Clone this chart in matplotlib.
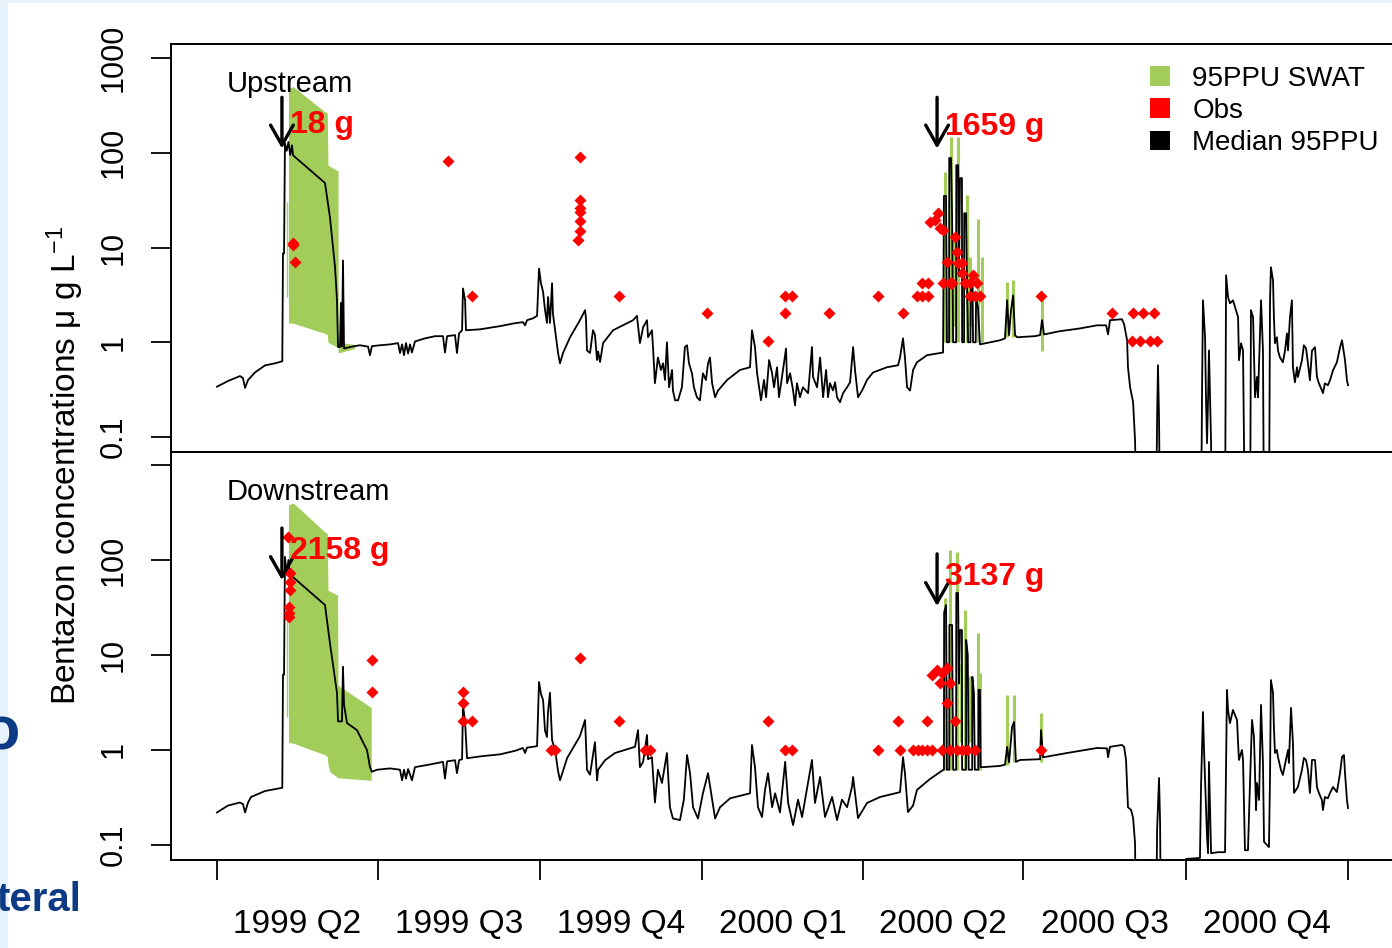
import matplotlib
matplotlib.use("Agg")
import matplotlib.pyplot as plt
from matplotlib.patches import Patch, Rectangle

plt.rcParams['font.family'] = ['Liberation Sans', 'DejaVu Sans']
plt.rcParams['mathtext.fontset'] = 'custom'
plt.rcParams['mathtext.rm'] = 'Liberation Sans'
plt.rcParams['mathtext.it'] = 'Liberation Sans:italic'

GREEN = '#A2CD5A'
RED = '#FF0000'

# ---- x axis: days since 1999-04-01 ----
quarter_edges = [0, 91, 183, 275, 366, 457, 549, 641]
quarter_labels = ['1999 Q2', '1999 Q3', '1999 Q4', '2000 Q1', '2000 Q2', '2000 Q3', '2000 Q4']

y_ticks = [0.1, 1, 10, 100, 1000]
y_labels_top = ['0.1', '1', '10', '100', '1000']
y_labels_bot = ['0.1', '1', '10', '100', '']

# ---- Upstream: median of 95PPU (day, ug/L) ----
up_median = [
    (0, 0.34), (6.2, 0.39), (13.0, 0.44), (14.7, 0.42), (15.9, 0.33), (17.6, 0.40), (21.5, 0.48),
    (27.2, 0.57), (32.9, 0.60), (37.0, 0.63), (37.4, 8.7), (38.0, 8.7), (38.5, 126), (39.5, 105),
    (40.5, 130), (41.5, 95), (42.5, 120), (43.1, 94), (61.2, 48), (64.0, 21), (66.9, 6.2), (68.0, 2.8),
    (68.6, 0.89), (69.7, 0.89), (70.2, 2.6), (70.8, 0.90), (71.4, 7.3), (72.0, 0.86), (76.5, 0.90),
    (81.0, 0.93), (85.6, 0.90), (86.7, 0.73), (87.8, 0.91), (92.4, 0.93), (98.1, 0.95), (102.6, 0.98),
    (103.7, 0.77), (104.9, 0.95), (106.0, 0.73), (107.1, 0.98), (108.3, 0.76), (109.4, 0.95),
    (110.5, 0.78), (112.2, 1.02), (117.9, 1.10), (123.6, 1.16), (128.1, 1.16), (129.2, 0.78),
    (130.4, 1.16), (134.9, 1.19), (136.0, 0.77), (137.2, 1.24), (138.9, 1.34), (139.4, 3.7),
    (140.6, 2.8), (141.1, 1.34), (149.1, 1.37), (160.4, 1.48), (168.9, 1.59), (173.4, 1.63),
    (174.6, 1.51), (175.7, 1.71), (179.1, 1.79), (181.4, 1.90), (182.5, 6.0), (183.6, 4.2),
    (184.8, 3.4), (185.9, 2.2), (187.0, 1.6), (187.6, 3.0), (188.7, 1.6), (189.9, 4.2), (190.4, 2.0),
    (191.6, 1.34), (193.3, 0.77), (194.4, 0.60), (196.1, 0.77), (200.1, 1.13), (205.7, 1.71),
    (208.6, 2.18), (209.1, 1.8), (209.7, 0.82), (211.4, 0.77), (213.1, 1.34), (214.2, 1.2),
    (215.4, 0.65), (216.0, 0.80), (217.1, 0.62), (218.8, 0.98), (224.5, 1.34), (235.8, 1.71),
    (238.0, 1.9), (239.7, 0.98), (241.5, 1.44), (243.7, 1.71), (244.3, 1.13), (246.5, 1.34),
    (247.1, 0.89), (248.2, 0.37), (249.9, 0.69), (251.6, 0.51), (252.8, 0.60), (253.9, 0.40),
    (255.0, 1.0), (256.2, 0.335), (257.9, 0.51), (258.4, 0.31), (259.6, 0.244), (261.3, 0.244),
    (263.5, 0.335), (265.2, 0.89), (266.4, 0.93), (267.5, 0.60), (269.2, 0.47), (270.3, 0.335),
    (272.0, 0.263), (273.7, 0.244), (275.4, 0.47), (277.1, 0.40), (278.3, 0.60), (279.4, 0.69),
    (280.6, 0.37), (282.3, 0.263), (284.0, 0.31), (289.1, 0.40), (296.4, 0.51), (302.1, 0.545),
    (303.2, 1.34), (304.9, 0.89), (306.1, 0.47), (308.3, 0.244), (310.0, 0.40), (311.2, 0.263),
    (312.9, 0.65), (314.6, 0.47), (315.7, 0.335), (317.4, 0.545), (318.5, 0.263), (320.2, 0.43),
    (322.5, 0.86), (323.1, 0.37), (324.8, 0.47), (326.5, 0.31), (327.6, 0.216), (328.7, 0.37),
    (330.4, 0.263), (332.1, 0.335), (335.0, 0.29), (337.2, 0.89), (337.8, 0.43), (340.1, 0.335),
    (341.8, 0.69), (343.5, 0.263), (345.2, 0.51), (346.3, 0.263), (347.4, 0.37), (349.1, 0.31),
    (350.3, 0.378), (351.4, 0.263), (353.1, 0.233), (354.8, 0.29), (357.1, 0.335), (358.8, 0.378),
    (360.5, 0.89), (361.6, 0.51), (363.3, 0.263), (365.6, 0.31), (368.4, 0.40), (371.8, 0.48),
    (379.7, 0.545), (386.0, 0.572), (387.1, 0.69), (388.8, 1.10), (389.9, 0.69), (391.1, 0.335),
    (392.8, 0.31), (394.5, 0.51), (396.7, 0.615), (402.4, 0.73), (411.5, 0.78),
    (412.0, 35), (413.2, 35), (413.7, 1.0), (414.9, 1.0), (415.0, 88), (416.0, 88), (416.6, 21),
    (417.2, 1.0), (418.9, 1.0), (419.0, 74), (420.0, 74), (420.5, 5.0), (421.1, 54), (422.2, 54),
    (422.3, 1.0), (423.4, 1.0), (423.5, 23), (424.5, 23), (425.0, 5.0), (425.7, 1.0), (427.0, 1.0),
    (427.3, 4.5), (428.2, 4.5), (428.5, 1.0), (430.0, 1.0), (430.2, 3.0), (431.3, 2.3), (432.4, 0.95),
    (438.1, 1.0), (443.8, 1.05), (446.6, 1.10), (447.8, 2.77), (448.9, 1.19), (450.0, 2.18),
    (451.2, 3.13), (452.3, 1.19), (453.4, 1.13), (463.6, 1.16), (466.5, 1.19), (467.6, 1.71),
    (468.7, 1.21), (477.8, 1.31), (489.1, 1.40), (498.8, 1.51), (503.9, 1.51), (505.0, 1.21),
    (506.1, 1.71), (512.9, 1.75), (514.1, 1.55), (515.8, 1.05), (516.3, 0.545), (517.5, 0.335),
    (519.2, 0.233), (520.3, 0.093), (521.4, 0.01), (532.2, 0.01), (532.8, 0.158), (533.3, 0.572),
    (533.9, 0.158), (534.5, 0.01), (557.7, 0.01), (558.3, 0.34), (558.8, 2.77), (560.0, 1.10),
    (560.5, 0.263), (561.1, 0.086), (561.7, 0.263), (562.2, 0.82), (563.4, 0.086), (563.9, 0.01),
    (571.3, 0.01), (571.9, 5.1), (573.0, 2.99), (574.1, 2.58), (575.8, 2.77), (577.5, 2.18),
    (578.7, 1.84), (579.2, 0.646), (580.4, 0.977), (581.5, 0.82), (582.6, 0.01), (585.5, 0.01),
    (586.0, 2.18), (587.2, 1.84), (588.3, 0.263), (589.4, 0.43), (590.0, 0.263), (591.7, 2.77),
    (592.8, 0.82), (593.4, 0.01), (596.2, 0.01), (596.8, 2.77), (597.3, 6.2), (598.5, 4.5),
    (599.0, 1.84), (599.6, 0.977), (600.7, 1.13), (601.3, 0.82), (602.4, 0.694), (604.1, 0.615),
    (605.3, 0.82), (606.4, 1.24), (607.0, 0.82), (608.1, 1.84), (609.2, 2.77), (609.8, 0.545),
    (610.9, 0.378), (612.1, 0.545), (612.6, 0.43), (614.9, 0.646), (616.0, 0.93), (617.2, 0.864),
    (618.3, 0.60), (619.4, 0.397), (620.6, 0.82), (622.3, 0.886), (623.4, 0.43), (624.5, 0.369),
    (626.2, 0.311), (626.8, 0.29), (627.9, 0.369), (629.6, 0.352), (630.8, 0.397), (632.5, 0.506),
    (634.7, 0.615), (636.5, 0.886), (637.6, 1.05), (639.3, 0.646), (640.4, 0.397), (641.0, 0.352),
]

# ---- Downstream: median of 95PPU ----
down_median = [
    (0, 0.22), (6.2, 0.26), (13.0, 0.28), (14.7, 0.27), (15.9, 0.22), (17.6, 0.28), (19.3, 0.32),
    (27.2, 0.37), (37.0, 0.40), (37.4, 6.2), (38.0, 6.2), (38.5, 108), (39.5, 70), (40.5, 100),
    (41.5, 62), (42.5, 75), (43.1, 66), (61.2, 33.6), (64.0, 13.4), (68.0, 4.0), (68.6, 2.0),
    (70.8, 2.0), (71.4, 7.5), (72.0, 2.98), (73.7, 1.92), (79.3, 1.62), (85.0, 1.0), (86.7, 0.66),
    (87.8, 0.59), (90.7, 0.62), (98.0, 0.64), (103.7, 0.62), (104.9, 0.48), (106.0, 0.62),
    (107.1, 0.50), (108.3, 0.63), (110.5, 0.48), (112.2, 0.66), (120.0, 0.70), (128.1, 0.75),
    (129.2, 0.50), (130.4, 0.76), (134.9, 0.78), (136.0, 0.57), (137.2, 0.78), (138.9, 0.80),
    (139.4, 2.98), (140.6, 2.0), (141.7, 0.82), (150.0, 0.86), (160.4, 0.90), (168.9, 0.98),
    (173.4, 1.05), (174.6, 0.93), (175.7, 1.06), (179.1, 1.08), (181.4, 1.10), (182.5, 5.2),
    (183.6, 3.9), (184.8, 3.36), (185.9, 1.6), (187.0, 1.37), (187.6, 2.5), (188.7, 4.0),
    (189.9, 1.27), (191.6, 1.0), (193.3, 0.60), (194.4, 0.48), (196.1, 0.60), (198.4, 0.82),
    (205.7, 1.40), (208.6, 2.07), (209.7, 0.62), (211.4, 0.55), (214.2, 1.21), (215.4, 0.48),
    (216.0, 0.62), (219.9, 0.78), (225.6, 0.93), (236.9, 1.08), (238.6, 1.62), (239.7, 0.66),
    (241.5, 0.75), (243.7, 1.44), (244.3, 0.80), (246.5, 0.84), (248.2, 0.28), (249.9, 0.62),
    (252.2, 0.45), (255.0, 0.93), (256.7, 0.25), (258.4, 0.19), (262.4, 0.183), (264.6, 0.30),
    (266.4, 0.886), (268.1, 0.57), (269.8, 0.25), (272.6, 0.19), (275.4, 0.35), (278.3, 0.57),
    (280.6, 0.30), (282.3, 0.19), (285.1, 0.25), (290.8, 0.31), (302.1, 0.35), (303.2, 1.13),
    (304.9, 0.66), (306.6, 0.25), (308.9, 0.197), (310.6, 0.38), (312.3, 0.57), (314.6, 0.25),
    (316.3, 0.35), (319.1, 0.22), (322.0, 0.75), (323.7, 0.277), (326.5, 0.162), (329.3, 0.30),
    (331.6, 0.197), (337.2, 0.785), (338.9, 0.277), (341.8, 0.52), (344.6, 0.197), (348.6, 0.32),
    (351.4, 0.183), (354.2, 0.30), (357.1, 0.25), (359.9, 0.41), (360.5, 0.52), (363.3, 0.192),
    (368.4, 0.277), (375.8, 0.32), (387.1, 0.36), (388.8, 0.84), (389.9, 0.57), (391.6, 0.222),
    (394.5, 0.26), (396.7, 0.38), (404.1, 0.495), (411.5, 0.616),
    (412.0, 0.62), (412.1, 28), (413.2, 33.6), (413.7, 0.62), (415.0, 0.62), (415.1, 20.7),
    (416.6, 20.7), (417.2, 0.62), (418.9, 0.62), (419.0, 45), (420.0, 45), (420.5, 5.0),
    (421.1, 18.3), (422.2, 18.3), (422.3, 0.62), (424.5, 0.62), (424.6, 14.4), (425.5, 10),
    (426.0, 0.62), (428.0, 0.62), (428.1, 5.9), (429.0, 4.0), (429.5, 0.62), (431.5, 0.62),
    (431.6, 4.3), (432.4, 4.3), (432.8, 0.66),
    (434.1, 0.66), (443.8, 0.68), (446.6, 0.70), (447.8, 1.08), (448.9, 0.74), (450.6, 1.75),
    (451.7, 1.97), (452.8, 0.75), (455.1, 0.785), (465.3, 0.80), (466.5, 0.80), (467.0, 1.62),
    (468.2, 0.84), (469.3, 0.845), (481.8, 0.93), (498.8, 1.05), (504.4, 1.04), (505.0, 0.84),
    (506.1, 1.08), (512.9, 1.13), (514.1, 1.08), (515.2, 0.785), (515.8, 0.41), (516.3, 0.25),
    (518.1, 0.233), (519.2, 0.192), (520.3, 0.105), (520.9, 0.01), (532.2, 0.01), (532.8, 0.144),
    (533.9, 0.507), (534.5, 0.17), (535.0, 0.01), (548.6, 0.01), (549.2, 0.0713), (557.1, 0.073),
    (557.7, 0.41), (558.8, 2.51), (559.4, 1.0), (560.5, 0.25), (561.1, 0.122), (561.7, 0.082),
    (562.2, 0.748), (563.4, 0.082), (567.4, 0.084), (571.3, 0.084), (572.4, 4.28), (573.0, 2.64),
    (574.1, 1.92), (575.8, 2.64), (578.1, 2.07), (578.7, 1.18), (579.2, 0.785), (580.9, 1.0),
    (581.5, 0.785), (582.6, 0.088), (584.3, 0.088), (585.5, 0.483), (586.6, 2.07), (587.7, 1.37),
    (588.9, 0.233), (589.4, 0.45), (590.6, 0.298), (591.7, 2.98), (592.8, 0.73), (593.4, 0.108),
    (596.2, 0.095), (596.8, 0.52), (597.3, 5.45), (598.5, 4.0), (599.0, 1.75), (599.6, 0.93),
    (600.7, 1.0), (601.3, 0.844), (603.0, 0.616), (604.1, 0.546), (605.8, 0.785), (607.0, 1.0),
    (607.5, 0.73), (608.7, 2.77), (609.8, 1.18), (610.4, 0.353), (611.5, 0.379), (612.6, 0.408),
    (614.9, 0.616), (616.0, 0.824), (617.2, 0.785), (618.3, 0.616), (619.4, 0.353), (620.6, 0.785),
    (622.3, 0.785), (623.4, 0.408), (624.5, 0.353), (626.2, 0.298), (626.8, 0.233), (627.9, 0.32),
    (629.6, 0.31), (630.8, 0.353), (632.5, 0.408), (634.7, 0.361), (636.5, 0.573), (637.6, 0.844),
    (638.7, 0.886), (639.3, 0.573), (640.4, 0.298), (641.0, 0.245),
]

# ---- 95PPU band, first event ----
up_band_days = [40.5, 43.1, 61.2, 62.5, 62.9, 68.0, 68.6, 68.7, 78.0]
up_band_hi = [480, 500, 270, 265, 74, 65, 65, 1.0, 0.95]
up_band_lo = [1.6, 1.59, 1.24, 1.2, 1.0, 0.89, 0.88, 0.77, 0.86]

down_band_days = [40.5, 43.1, 61.2, 62.5, 62.9, 64.0, 68.0, 68.3, 68.6, 87.4]
down_band_hi = [380, 400, 197, 190, 48, 47, 43, 43, 4.8, 2.8]
down_band_lo = [1.2, 1.18, 0.89, 0.85, 0.7, 0.59, 0.52, 0.51, 0.51, 0.48]

# ---- 95PPU band, later short events (day, low, high) ----
up_spikes_day = [39.7, 412.6, 416.0, 417.8, 420.0, 425.1, 426.5, 431.3, 433.6, 447.8, 451.2, 467.6]
up_spikes_lo = [3.0, 1.0, 1.0, 1.5, 1.0, 1.0, 1.5, 1.0, 1.0, 1.13, 1.13, 0.8]
up_spikes_hi = [30, 62, 146, 12, 146, 36, 8, 20, 7.9, 4.3, 4.5, 3.1]

down_spikes_day = [39.7, 412.6, 415.4, 419.4, 421.5, 423.9, 427.0, 431.3, 432.4, 447.8, 451.7, 467.0]
down_spikes_lo = [2.2, 0.62, 0.62, 0.62, 1.2, 0.62, 1.2, 0.62, 0.62, 0.70, 0.75, 0.74]
down_spikes_hi = [25, 40, 127, 121, 8, 30, 6, 17, 6.5, 3.8, 3.8, 2.45]

# ---- observations ----
up_obs = [
    (43.1, 10.6), (43.1, 11.2), (44.2, 7.0), (130.9, 81), (144.5, 3.06),
    (205.7, 90), (205.7, 32), (205.7, 26), (205.7, 23.5), (205.7, 19), (205.7, 14.8), (204.6, 11.9),
    (227.8, 3.06), (277.7, 2.02), (312.3, 1.02), (321.9, 2.02), (321.9, 3.06), (325.9, 3.06),
    (346.9, 2.02), (374.6, 3.06), (388.8, 2.02), (396.7, 3.06), (399.6, 3.06), (403.0, 3.06),
    (399.6, 4.2), (403.0, 4.2), (408.6, 23), (407.0, 19.3), (404.1, 18.5), (409.8, 16),
    (411.5, 15.2), (411.5, 4.2), (415.4, 4.2), (416.6, 4.2), (413.7, 7.0), (418.3, 12.8),
    (419.4, 8.9), (420.0, 6.8), (422.2, 6.8), (422.2, 5.4), (423.9, 4.2), (426.8, 4.2),
    (428.5, 5.1), (426.8, 3.1), (429.6, 3.1), (432.4, 3.1), (430.7, 4.2), (467.0, 3.06),
    (507.3, 2.02), (519.2, 2.02), (524.8, 2.02), (531.1, 2.02),
    (518.6, 1.02), (523.1, 1.02), (528.8, 1.02), (532.8, 1.02),
]

down_obs = [
    (40.2, 175), (41.4, 73), (41.4, 58), (41.4, 48), (40.8, 32), (40.8, 28), (40.8, 25),
    (87.8, 8.9), (87.8, 4.1), (139.4, 4.1), (139.4, 3.1), (139.4, 2.02), (144.5, 2.02),
    (205.7, 9.3), (189.3, 1.0), (191.6, 1.0), (227.8, 2.02), (242.6, 1.0), (245.4, 1.0),
    (312.3, 2.02), (321.9, 1.0), (325.9, 1.0), (374.6, 1.0), (386.0, 2.02), (387.1, 1.0),
    (394.5, 1.0), (397.3, 1.0), (399.6, 1.0), (402.4, 1.0), (405.2, 1.0), (402.4, 2.02),
    (405.2, 6.2), (408.1, 6.95), (410.9, 6.4), (413.7, 7.3), (409.8, 5.1), (415.4, 5.1),
    (413.7, 3.1), (418.3, 2.02), (410.9, 1.0), (415.4, 1.0), (419.4, 1.0), (422.2, 1.0),
    (425.1, 1.0), (429.6, 1.0), (467.0, 1.0),
]

# ---- annotations: pesticide loads ----
load_days = [36.8, 408.1]
up_loads = ['18 g', '1659 g']
down_loads = ['2158 g', '3137 g']

# ================= figure =================
W, H = 1392, 948
fig = plt.figure(figsize=(W / 100, H / 100), dpi=100)
fig.patch.set_facecolor('white')

# slide background fragments
fig.patches.append(Rectangle((0, 0), 8 / W, 1, transform=fig.transFigure,
                             facecolor='#E6F3FD', edgecolor='none', zorder=0))
fig.patches.append(Rectangle((0, 1 - 3 / H), 1, 3 / H, transform=fig.transFigure,
                             facecolor='#E6F3FD', edgecolor='none', zorder=0))
fig.text(20 / W, 1 - 750 / H, 'o', color='#0D3A84', fontsize=44, fontweight='bold',
         ha='right', va='baseline')
fig.text(81 / W, 1 - 911 / H, 'teral', color='#0D3A84', fontsize=29, fontweight='bold',
         ha='right', va='baseline')

left = 171 / W
width = (1393 - 171) / W
ax1 = fig.add_axes([left, 1 - 452 / H, width, (452 - 44) / H])
ax2 = fig.add_axes([left, 1 - 860 / H, width, (860 - 452) / H])

xlim = (-26.07, 666.5)
panels = [
    (ax1, up_median, up_band_days, up_band_lo, up_band_hi, up_spikes_day, up_spikes_lo,
     up_spikes_hi, up_obs, (0.0695, 1406), y_labels_top, 'Upstream', up_loads,
     [(111, 385), (111, 385)], [195, 186], 0.902),
    (ax2, down_median, down_band_days, down_band_lo, down_band_hi, down_spikes_day,
     down_spikes_lo, down_spikes_hi, down_obs, (0.0695, 1371), y_labels_bot, 'Downstream',
     down_loads, [(61.5, 217), (32.8, 116)], [124, 66], 0.902),
]

for (ax, med, bd, blo, bhi, sd, slo, shi, obs, ylim, ylabs, title, loads,
     arrows, load_y, ty) in panels:
    ax.set_yscale('log')
    ax.set_xlim(*xlim)
    ax.set_ylim(*ylim)
    ax.fill_between(bd, blo, bhi, color=GREEN, lw=0, zorder=1)
    ax.vlines(sd[1:], slo[1:], shi[1:], color=GREEN, lw=2.2, zorder=1)
    ax.vlines(sd[:1], slo[:1], shi[:1], color=GREEN, lw=1.0, zorder=1)
    mx = [p[0] for p in med]
    my = [p[1] for p in med]
    ax.plot(mx, my, color='black', lw=1.3, zorder=2)
    ox = [p[0] for p in obs]
    oy = [p[1] for p in obs]
    ax.plot(ox, oy, 'D', color=RED, ms=6.5, mec='none', zorder=3, clip_on=True)

    ax.set_yticks(y_ticks)
    ax.set_yticklabels(ylabs, rotation=90, va='center')
    ax.yaxis.set_minor_locator(matplotlib.ticker.NullLocator())
    ax.tick_params(axis='y', which='major', direction='out', length=14.5, width=1.3,
                   labelsize=22, pad=16)
    ax.set_xticks(quarter_edges)
    ax.set_xticklabels([])
    ax.tick_params(axis='x', which='major', direction='out', length=14.5, width=1.3)
    for sp in ax.spines.values():
        sp.set_linewidth(1.4)

    ax.text(0.0459, ty, title, transform=ax.transAxes, fontsize=21,
            ha='left', va='center')
    for d, (tip, tail), lab, ly in zip(load_days, arrows, loads, load_y):
        ax.annotate('', xy=(d, tip), xytext=(d, tail),
                    arrowprops=dict(arrowstyle='->,head_length=0.72,head_width=0.41',
                                    lw=2.4, color='black', shrinkA=0, shrinkB=0,
                                    mutation_scale=20), zorder=4)
        ax.text(d + 4.6, ly, lab, color=RED, fontsize=23, fontweight='bold',
                ha='left', va='center', zorder=5)

# x labels on bottom panel, centred in each quarter
mids = [(a + b) / 2 for a, b in zip(quarter_edges[:-1], quarter_edges[1:])]
ax2.set_xticks(mids, minor=True)
ax2.set_xticklabels(quarter_labels, minor=True)
ax2.tick_params(axis='x', which='minor', length=0, labelsize=24, pad=35)

# legend
handles = [Patch(facecolor=GREEN, edgecolor='none'), Patch(facecolor=RED, edgecolor='none'),
           Patch(facecolor='black', edgecolor='none')]
ax1.legend(handles, ['95PPU SWAT', 'Obs', 'Median 95PPU'], loc='upper left',
           bbox_to_anchor=((1150 - 171) / 1222, (452 - 66) / 408), frameon=False,
           fontsize=20, handlelength=0.72, handleheight=0.72, handletextpad=0.8,
           labelspacing=0.22, borderpad=0, borderaxespad=0)

fig.text(65 / W, 1 - 465 / H, 'Bentazon concentrations μ g L$^{-1}$', rotation=90,
         fontsize=24, ha='center', va='center')

fig.savefig('out.png', dpi=100)
